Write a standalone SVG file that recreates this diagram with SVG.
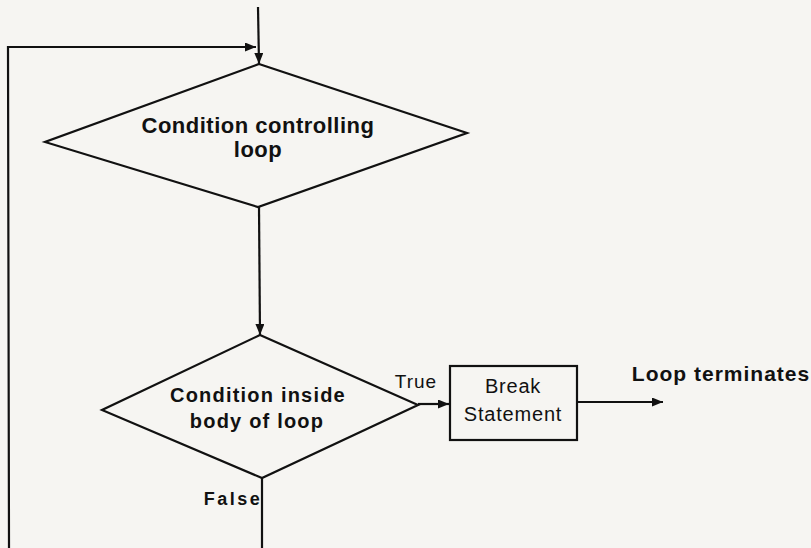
<svg xmlns="http://www.w3.org/2000/svg" width="811" height="548" viewBox="0 0 811 548">
  <style>
    .shape { fill: none; stroke: #111; stroke-width: 2.2; stroke-linejoin: miter; }
    .wire { fill: none; stroke: #111; stroke-width: 2.2; }
    .bold { font-family: "Liberation Sans", Arial, sans-serif; font-weight: bold; fill: #111; text-anchor: middle; }
    .plain { font-family: "Liberation Sans", Arial, sans-serif; fill: #111; text-anchor: middle; }
  </style>
  <defs>
    <marker id="arrow" viewBox="0 0 10 10" refX="10" refY="5" markerWidth="11" markerHeight="9" orient="auto" markerUnits="userSpaceOnUse" preserveAspectRatio="none">
      <path d="M0,0 L10,5 L0,10 z" fill="#111"/>
    </marker>
  </defs>

  <rect width="811" height="548" fill="#f6f5f2"/>

  <!-- outer loop condition -->
  <g id="cond-loop">
    <polygon class="shape" points="259,64 467,133 258,207 45,142"/>
    <text class="bold" x="258" y="133" font-size="22" letter-spacing="0.5">Condition controlling</text>
    <text class="bold" x="258" y="157" font-size="22" letter-spacing="0.5">loop</text>
  </g>

  <!-- condition inside the loop body -->
  <g id="cond-inside">
    <polygon class="shape" points="260,335 418,405 262,478 102,410"/>
    <text class="bold" x="258" y="402" font-size="20" letter-spacing="1.2">Condition inside</text>
    <text class="bold" x="257" y="428" font-size="20" letter-spacing="1.2">body of loop</text>
  </g>

  <!-- break statement box -->
  <g id="break-box">
    <rect class="shape" x="450" y="366" width="127" height="74"/>
    <text class="plain" x="513" y="393" font-size="20" letter-spacing="0.8">Break</text>
    <text class="plain" x="513" y="421" font-size="20" letter-spacing="0.8">Statement</text>
  </g>

  <!-- exit label -->
  <g id="exit">
    <text class="bold" x="721" y="381" font-size="21" letter-spacing="1">Loop terminates</text>
  </g>

  <!-- connectors -->
  <g id="connectors">
    <line class="wire" x1="258" y1="7" x2="259" y2="64" marker-end="url(#arrow)"/>
    <polyline class="wire" points="9,548 8,47 256,47" marker-end="url(#arrow)"/>
    <line class="wire" x1="259" y1="207" x2="260" y2="335" marker-end="url(#arrow)"/>
    <line class="wire" x1="418" y1="404" x2="449" y2="404" marker-end="url(#arrow)"/>
    <line class="wire" x1="577" y1="402" x2="663" y2="402" marker-end="url(#arrow)"/>
    <line class="wire" x1="262" y1="478" x2="262" y2="548"/>
    <text class="plain" x="416" y="388" font-size="19" letter-spacing="1">True</text>
    <text class="bold" x="233" y="505" font-size="18" letter-spacing="2.5">False</text>
  </g>
</svg>
